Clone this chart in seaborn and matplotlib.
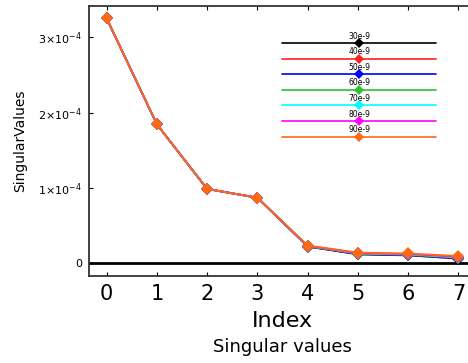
import matplotlib
matplotlib.use("Agg")
import matplotlib.pyplot as plt
import seaborn as sns
import pandas as pd
import numpy as np

sns.set_theme(style="white")
plt.rcParams['font.family'] = ['DejaVu Sans']
plt.rcParams['text.color'] = 'black'
plt.rcParams['axes.labelcolor'] = 'black'
plt.rcParams['xtick.color'] = 'black'
plt.rcParams['ytick.color'] = 'black'

index = [0, 1, 2, 3, 4, 5, 6, 7]
labels = ["30e-9", "40e-9", "50e-9", "60e-9", "70e-9", "80e-9", "90e-9"]
colors = ["#000000", "#ff2020", "#0000ff", "#30c030", "#00ffff", "#ff00ff", "#ff6a10"]
s30 = [3.254e-4, 1.846e-4, 0.987e-4, 0.871e-4, 0.222e-4, 0.118e-4, 0.105e-4, 0.062e-4]
s40 = [3.254e-4, 1.846e-4, 0.987e-4, 0.871e-4, 0.224e-4, 0.121e-4, 0.108e-4, 0.066e-4]
s50 = [3.254e-4, 1.846e-4, 0.987e-4, 0.871e-4, 0.226e-4, 0.124e-4, 0.111e-4, 0.070e-4]
s60 = [3.254e-4, 1.846e-4, 0.987e-4, 0.871e-4, 0.228e-4, 0.128e-4, 0.115e-4, 0.075e-4]
s70 = [3.254e-4, 1.846e-4, 0.987e-4, 0.871e-4, 0.230e-4, 0.132e-4, 0.119e-4, 0.081e-4]
s80 = [3.254e-4, 1.846e-4, 0.987e-4, 0.871e-4, 0.232e-4, 0.136e-4, 0.124e-4, 0.088e-4]
s90 = [3.254e-4, 1.846e-4, 0.987e-4, 0.871e-4, 0.236e-4, 0.142e-4, 0.130e-4, 0.097e-4]
series = [s30, s40, s50, s60, s70, s80, s90]
yticks = [0, 1e-4, 2e-4, 3e-4]
ytick_labels = ["0", r"$1{\times}10^{-4}$", r"$2{\times}10^{-4}$", r"$3{\times}10^{-4}$"]

rows = []
for lab, vals in zip(labels, series):
    for i, v in zip(index, vals):
        rows.append({"Index": i, "Value": v, "Series": lab})
df = pd.DataFrame(rows)

fig = plt.figure(figsize=(4.68, 3.63), dpi=100)
ax = fig.add_axes([89/468, 87.3/363, 387/468, 269.7/363])

ax.axhline(0, color="black", lw=2, zorder=1)

sns.lineplot(data=df, x="Index", y="Value", hue="Series", hue_order=labels,
             palette=colors, marker="D", markersize=6.5, markeredgewidth=0,
             markeredgecolor="none", linewidth=1.3, legend=False, ax=ax, zorder=3)

ax.set_xlim(-0.35, 7.35)
ax.set_ylim(-0.165e-4, 3.417e-4)
ax.set_xticks(index)
ax.set_xticklabels([str(i) for i in index], fontsize=15)
ax.set_yticks(yticks)
ax.set_yticklabels(ytick_labels, fontsize=8)
ax.tick_params(axis="both", direction="in", length=3, width=0.8, color="black",
               labelcolor="black", top=True, right=True, bottom=True, left=True)
ax.tick_params(axis="x", pad=6)
ax.tick_params(axis="y", pad=5)
for sp in ax.spines.values():
    sp.set_color("#333333")
    sp.set_linewidth(1.3)

ax.set_xlabel("")
ax.set_ylabel("SingularValues", fontsize=10, labelpad=8, color="black")
fig.text(0.5 * (89 + 476) / 468, 1 - 320.7/363, "Index", fontsize=16,
         ha="center", va="center", color="black")
fig.text(0.5 * (89 + 476) / 468, 1 - 347/363, "Singular values", fontsize=13,
         ha="center", va="center", color="black")

# custom legend (text above line, diamond on line)
x0, x1, xm = 0.499, 0.897, 0.698
ytop = (276 - 43.3) / 270
dy = 15.57 / 270
for k, (lab, col) in enumerate(zip(labels, colors)):
    yy = ytop - k * dy
    ax.plot([x0, x1], [yy, yy], color=col, lw=1.2, transform=ax.transAxes, zorder=4)
    ax.text(xm, yy + 7/270, lab, fontsize=5.5, ha="center", va="center",
            transform=ax.transAxes, zorder=5, color="black")
    ax.plot([xm], [yy], marker="D", markersize=5.5, color=col, markeredgewidth=0,
            transform=ax.transAxes, zorder=6)

fig.savefig("out.png", dpi=100)
